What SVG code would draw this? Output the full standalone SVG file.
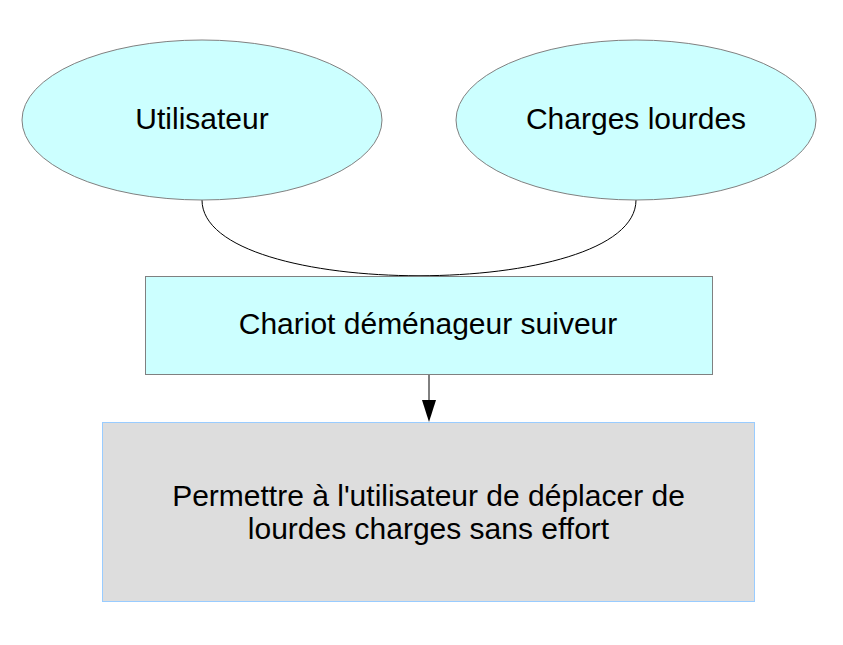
<svg xmlns="http://www.w3.org/2000/svg" width="843" height="645" viewBox="0 0 843 645">
<style>
.lbl{font-family:"Liberation Sans",Arial,sans-serif;font-size:30px;fill:#000;text-anchor:middle}
.cyan{fill:#ccffff;stroke:#808080;stroke-width:1}
.conn{fill:none;stroke:#000;stroke-width:1}
</style>
<rect width="843" height="645" fill="#fff"/>
<g id="connectors">
<path class="conn" d="M202,200 C202,301 636,301 636,200"/>
<line x1="429" y1="375" x2="429" y2="400" stroke="#000" stroke-width="1"/>
<path d="M422,400 L436,400 L429,422 Z" fill="#000"/>
</g>
<g id="utilisateur">
<ellipse class="cyan" cx="202" cy="120" rx="180" ry="80"/>
<text class="lbl" x="202" y="129">Utilisateur</text>
</g>
<g id="charges">
<ellipse class="cyan" cx="636" cy="120" rx="180" ry="80"/>
<text class="lbl" x="636" y="129">Charges lourdes</text>
</g>
<g id="chariot">
<rect class="cyan" x="145.5" y="276.5" width="567" height="98"/>
<text class="lbl" x="428" y="334">Chariot déménageur suiveur</text>
</g>
<g id="fonction">
<rect x="102.5" y="422.5" width="652" height="179" fill="#dddddd" stroke="#99ccff" stroke-width="1"/>
<text class="lbl" x="428.5" y="506">Permettre à l'utilisateur de déplacer de</text>
<text class="lbl" x="428.5" y="539">lourdes charges sans effort</text>
</g>
</svg>
